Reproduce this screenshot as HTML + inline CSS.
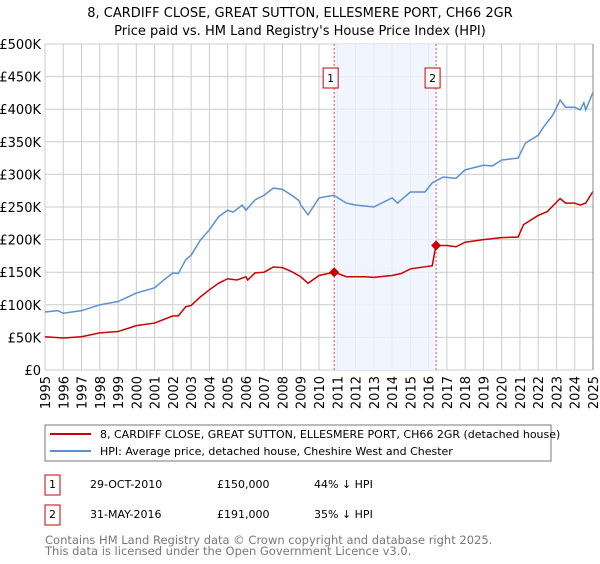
<!DOCTYPE html>
<html><head><meta charset="utf-8"><style>
body{margin:0;background:#fff;font-family:"DejaVu Sans","Liberation Sans",sans-serif;}
svg text{font-family:"DejaVu Sans","Liberation Sans",sans-serif;}
</style></head><body>
<svg id="c" width="600" height="560" viewBox="0 0 600 560" xmlns="http://www.w3.org/2000/svg">
<text x="300" y="17" text-anchor="middle" font-size="13" fill="#000">8, CARDIFF CLOSE, GREAT SUTTON, ELLESMERE PORT, CH66 2GR</text>
<text x="300" y="35" text-anchor="middle" font-size="13" fill="#000">Price paid vs. HM Land Registry's House Price Index (HPI)</text>
<g id="grid"></g>
<g id="shade"></g>
<g id="series"></g>
<g id="axes"></g>
<g>
<rect x="45" y="425" width="506" height="36" fill="#fff" stroke="#777" stroke-width="1"/>
<line x1="50" y1="434" x2="91" y2="434" stroke="#cc0000" stroke-width="2"/>
<text x="100" y="438" font-size="11" fill="#000">8, CARDIFF CLOSE, GREAT SUTTON, ELLESMERE PORT, CH66 2GR (detached house)</text>
<line x1="50" y1="451" x2="91" y2="451" stroke="#5b8fd4" stroke-width="2"/>
<text x="100" y="455" font-size="11" fill="#000">HPI: Average price, detached house, Cheshire West and Chester</text>
</g>
<g font-size="11" fill="#000">
<rect x="45" y="475" width="15" height="20" fill="#fff" stroke="#cc0000"/>
<text x="52.5" y="488" text-anchor="middle">1</text>
<text x="90" y="488">29-OCT-2010</text>
<text x="217" y="488">£150,000</text>
<text x="314" y="488">44% ↓ HPI</text>
<rect x="45" y="505" width="15" height="20" fill="#fff" stroke="#cc0000"/>
<text x="52.5" y="518" text-anchor="middle">2</text>
<text x="90" y="518">31-MAY-2016</text>
<text x="217" y="518">£191,000</text>
<text x="314" y="518">35% ↓ HPI</text>
</g>
<text x="45" y="544" font-size="11.5" fill="#777">Contains HM Land Registry data © Crown copyright and database right 2025.</text>
<text x="45" y="555" font-size="11.5" fill="#777">This data is licensed under the Open Government Licence v3.0.</text>
</svg>
<script>
const hpiYears=[1995,1995.7,1996,1997,1998,1999,2000,2001,2001.5,2002,2002.3,2002.7,2003,2003.5,2004,2004.5,2005,2005.3,2005.8,2006,2006.5,2007,2007.5,2008,2008.5,2008.9,2009,2009.4,2010,2010.8,2011.5,2012,2013,2014,2014.3,2015,2015.8,2016.2,2016.8,2017.5,2018,2019,2019.5,2020,2020.9,2021.3,2022,2022.3,2022.8,2023.2,2023.5,2024,2024.3,2024.5,2024.6,2025];
const hpiValues=[89,91,87,91,100,105,118,126,138,149,148,169,176,199,215,235,245,242,253,245,261,268,279,277,268,260,253,238,264,268,256,253,250,264,256,273,273,287,296,294,307,314,313,322,325,348,360,373,391,414,403,403,399,410,399,426];
const priceYears=[1995,1996,1997,1998,1999,2000,2001,2002,2002.3,2002.7,2003,2003.5,2004,2004.5,2005,2005.5,2006,2006.1,2006.5,2007,2007.5,2008,2008.5,2009,2009.4,2010,2010.83,2011.5,2012.5,2013,2014,2014.5,2015,2016.2,2016.4,2017,2017.5,2018,2019,2020,2020.9,2021.2,2022,2022.5,2023.2,2023.5,2024,2024.3,2024.6,2025];
const priceValues=[51,49,51,57,59,68,72,83,83,97,99,112,123,133,140,138,143,138,149,150,158,157,151,143,133,145,150,143,143,142,145,148,155,160,191,191,189,196,200,203,204,223,237,243,263,256,256,253,256,274];
const saleYears=[2010.83,2016.41];
const saleValues=[150,191];
const saleLabels=["1","2"];
const yTicks=[0,50,100,150,200,250,300,350,400,450,500];
const yTickLabels=["£0","£50K","£100K","£150K","£200K","£250K","£300K","£350K","£400K","£450K","£500K"];
const xTicks=[1995,1996,1997,1998,1999,2000,2001,2002,2003,2004,2005,2006,2007,2008,2009,2010,2011,2012,2013,2014,2015,2016,2017,2018,2019,2020,2021,2022,2023,2024,2025];

const NS="http://www.w3.org/2000/svg";
const L=45,R=593,T=44,B=370;
const xs=y=>L+(y-1995)/30*(R-L);
const ys=v=>B-v/500*(B-T);
function mk(tag,attrs,parent){const e=document.createElementNS(NS,tag);for(const k in attrs)e.setAttribute(k,attrs[k]);parent.appendChild(e);return e;}
const grid=document.getElementById('grid'),axes=document.getElementById('axes'),series=document.getElementById('series'),shade=document.getElementById('shade');
yTicks.forEach((v,i)=>{
 const l=mk('line',{x1:L,x2:R,y1:ys(v),y2:ys(v),stroke:'#ccc','stroke-width':1},grid);
 
 
 const t=mk('text',{x:L-4,y:ys(v)+5,'text-anchor':'end','font-size':13,fill:'#000'},axes);
 t.textContent=yTickLabels[i];
 
 
});
xTicks.forEach(y=>{
 const l=mk('line',{x1:xs(y),x2:xs(y),y1:T,y2:B,stroke:'#ccc','stroke-width':1},grid);
 
 
 const t=mk('text',{x:0,y:0,'text-anchor':'end','font-size':13,fill:'#000',transform:`translate(${xs(y)+5},${B+6}) rotate(-90)`},axes);
 t.textContent=y;
 
 
});
const band=mk('rect',{x:xs(saleYears[0]),y:T,width:xs(saleYears[1])-xs(saleYears[0]),height:B-T,fill:'#eef3fd',opacity:0.8},shade);


saleYears.forEach((y,i)=>{
 const l=mk('line',{x1:xs(y),x2:xs(y),y1:T,y2:B,stroke:'#e05050','stroke-width':1,'stroke-dasharray':'2,2'},shade);
 
 
 const r=mk('rect',{x:xs(y)-11,y:68,width:15,height:20,fill:'#fff',stroke:'#cc0000'},shade);
 
 
 const t=mk('text',{x:xs(y)-3.5,y:82,'text-anchor':'middle','font-size':11,fill:'#000'},shade);
 t.textContent=saleLabels[i];
 
 
});
const hp=mk('polyline',{points:hpiYears.map((y,i)=>xs(y)+','+ys(hpiValues[i])).join(' '),fill:'none',stroke:'#5b8fd4','stroke-width':1.5},series);


const pp=mk('polyline',{points:priceYears.map((y,i)=>xs(y)+','+ys(priceValues[i])).join(' '),fill:'none',stroke:'#cc0000','stroke-width':1.5},series);


saleYears.forEach((y,i)=>{
 const cx=xs(y),cy=ys(saleValues[i]);
 const d=mk('polygon',{points:`${cx},${cy-5} ${cx+5},${cy} ${cx},${cy+5} ${cx-5},${cy}`,fill:'#cc0000'},series);
 
 
});
const ax=mk('line',{x1:R,x2:R,y1:T,y2:B,stroke:'#888','stroke-width':1},axes);


</script>
</body></html>
